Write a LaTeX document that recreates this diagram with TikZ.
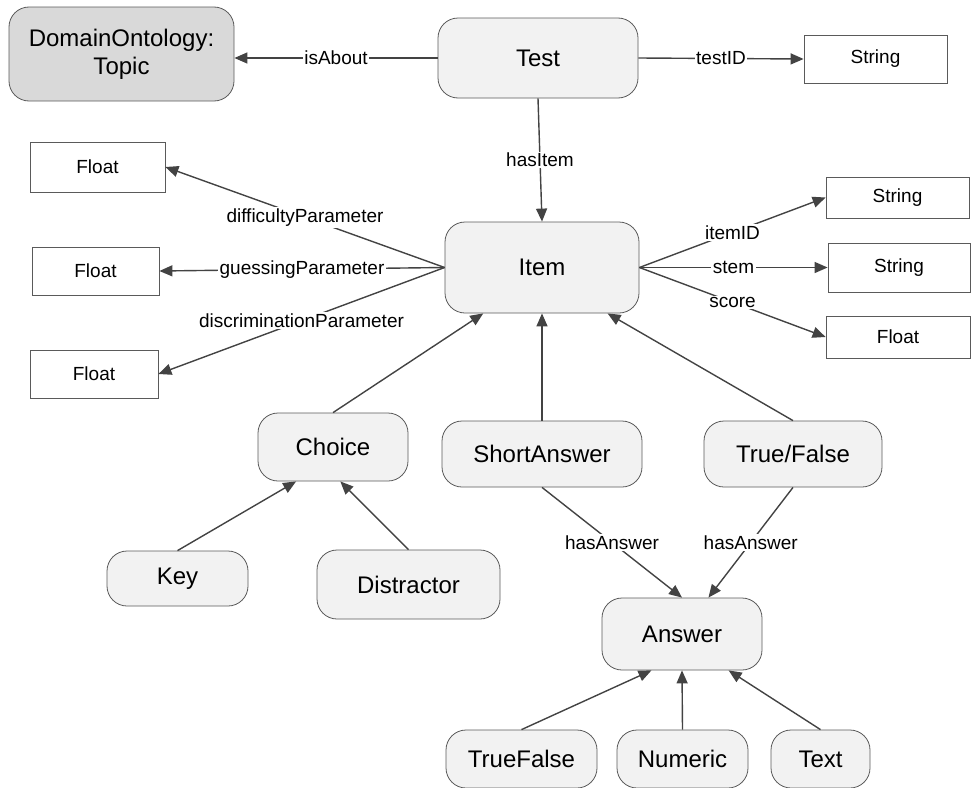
\documentclass[tikz,border=0pt]{standalone}
\usepackage{fontspec}
\setmainfont{Liberation Sans}
\usetikzlibrary{arrows.meta}
\definecolor{edgecol}{HTML}{434343}
\definecolor{bordercol}{HTML}{5A5A5A}
\definecolor{classfill}{HTML}{F2F2F2}
\definecolor{extfill}{HTML}{D9D9D9}
\tikzset{
  cls/.style={draw=bordercol, fill=classfill, rounded corners=20pt, line width=0.8pt,
    font=\fontsize{24}{28}\selectfont, inner sep=0pt, align=center},
  lit/.style={draw=bordercol, fill=white, line width=0.8pt,
    font=\fontsize{19}{22}\selectfont, inner sep=0pt},
  rel/.style={draw=edgecol, line width=1.4pt, -{Triangle[length=13pt,width=11pt]}},
  lbl/.style={fill=white, inner sep=1.5pt, font=\fontsize{19}{22}\selectfont, text=black},
  sz/.style 2 args={minimum width=#1, minimum height=#2}
}
\begin{document}
\begin{tikzpicture}[x=1pt,y=-1pt]
\useasboundingbox (0,0) rectangle (971,787);

% classes
\node[cls, fill=extfill, sz={225pt}{94pt}] (topic) at (121.5,54) {DomainOntology:\\Topic};
\node[cls, sz={200pt}{80pt}] (test) at (538,58) {Test};
\node[cls, sz={194pt}{91pt}] (item) at (542,267.5) {Item};
\node[cls, sz={150pt}{68pt}] (choice) at (333,447) {Choice};
\node[cls, sz={200pt}{66pt}] (short) at (542,454) {ShortAnswer};
\node[cls, sz={178pt}{66pt}] (tf) at (793,454) {True/False};
\node[cls, sz={141pt}{55pt}] (key) at (177.5,578.5) {Key};
\node[cls, sz={183pt}{69pt}] (distr) at (408.5,584.5) {Distractor};
\node[cls, sz={160pt}{72pt}] (answer) at (682,634) {Answer};
\node[cls, sz={151pt}{58pt}] (atf) at (521.5,759) {TrueFalse};
\node[cls, sz={131pt}{58pt}] (anum) at (682.5,759) {Numeric};
\node[cls, sz={99pt}{58pt}] (atext) at (820.5,759) {Text};

% literal types
\node[lit, sz={143pt}{48pt}] (s1) at (875.5,59) {String};
\node[lit, sz={135pt}{50pt}] (f1) at (97.5,167) {Float};
\node[lit, sz={127pt}{48pt}] (f2) at (95.5,271) {Float};
\node[lit, sz={128pt}{48pt}] (f3) at (94,374) {Float};
\node[lit, sz={143pt}{41pt}] (s2) at (897.5,197.5) {String};
\node[lit, sz={142pt}{49pt}] (s3) at (899,267.5) {String};
\node[lit, sz={144pt}{42pt}] (fr) at (898,337) {Float};

% properties
\draw[rel] (test.west) -- node[lbl] {isAbout} (test.west -| topic.east);
\draw[rel] (test.east) -- node[lbl] {testID} (s1.west);
\draw[rel] (test.south) -- node[lbl] {hasItem} (item.north);
\draw[rel] (item.west) -- node[lbl] {difficultyParameter} (f1.east);
\draw[rel] (item.west) -- node[lbl] {guessingParameter} (f2.east);
\draw[rel] (item.west) -- node[lbl] {discriminationParameter} (f3.east);
\draw[rel] (item.east) -- node[lbl] {itemID} (s2.west);
\draw[rel] (item.east) -- node[lbl] {stem} (s3.west);
\draw[rel] (item.east) -- node[lbl] {score} (fr.west);
\draw[rel] (short.south) -- node[lbl] {hasAnswer} (answer.north);
\draw[rel] (tf.south) -- node[lbl] {hasAnswer} (answer.54);

% subclass links
\draw[rel] (choice.north) -- (item.218);
\draw[rel] (short.north) -- (item.south);
\draw[rel] (tf.north) -- (item.325);
\draw[rel] (key.north) -- (choice.223);
\draw[rel] (distr.north) -- (choice.282);
\draw[rel] (atf.north) -- (answer.230);
\draw[rel] (anum.north) -- (answer.south);
\draw[rel] (atext.north) -- (answer.322);
\end{tikzpicture}
\end{document}
